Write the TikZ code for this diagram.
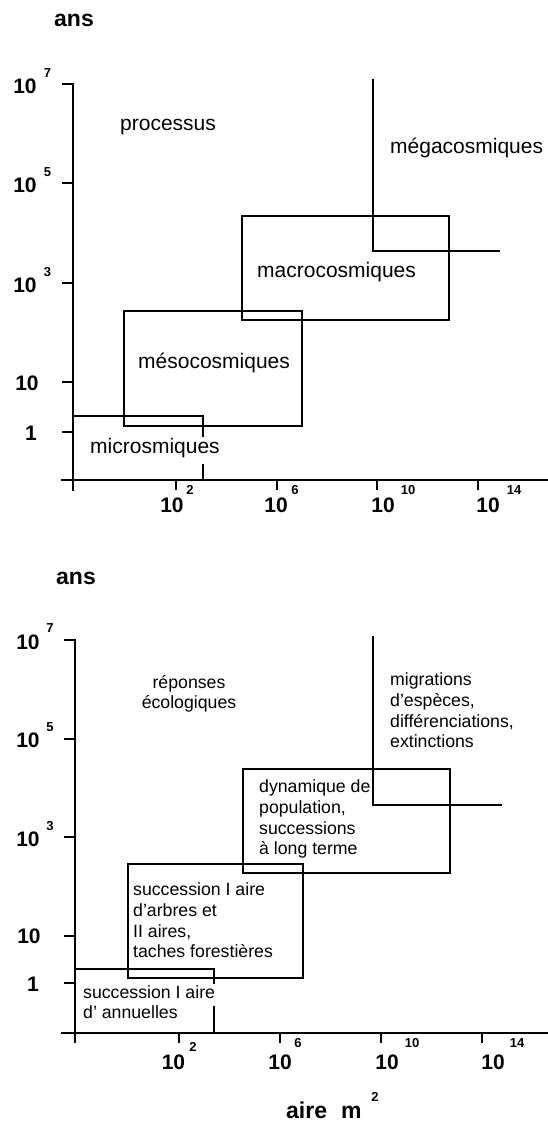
\documentclass[tikz,border=0pt]{standalone}
\usepackage{fontspec}
\setmainfont{Liberation Sans}
\begin{document}
\begin{tikzpicture}[x=1pt,y=-1pt,
  ln/.style={line width=1.5pt, line cap=rect},
  lbl/.style={font=\fontsize{21}{25}\selectfont, inner sep=0pt, anchor=base west},
  sm/.style={font=\fontsize{17.7}{20.6}\selectfont, inner sep=0pt, align=left, anchor=base west},
  num/.style={font=\bfseries\fontsize{21}{25}\selectfont, inner sep=0pt},
  supn/.style={font=\bfseries\fontsize{13}{15}\selectfont, inner sep=0pt},
  ttl/.style={font=\bfseries\fontsize{23}{27}\selectfont, inner sep=0pt, anchor=base west}]
\useasboundingbox (0,0) rectangle (547,1124);

% ================= TOP CHART =================
\node[ttl] (ans1) at (54,27) {ans};
% axes
\draw[ln] (73,84) -- (73,490);
\draw[ln] (62,480) -- (547,480);
\foreach \yy in {84,183,283,382,432} \draw[ln] (63,\yy) -- (73,\yy);
\foreach \xx in {176,277,377,478} \draw[ln] (\xx,480) -- (\xx,489);
% y labels
\node[num] (ty7) at (25,86) {10};  \node[supn] (ty7s) at (47.5,73) {7};
\node[num] (ty5) at (25,185) {10}; \node[supn] (ty5s) at (47.5,172) {5};
\node[num] (ty3) at (25,285) {10}; \node[supn] (ty3s) at (47.5,272) {3};
\node[num] (ty1) at (27,383) {10};
\node[num] (ty0) at (31,433) {1};
% x labels
\node[num] (tx2) at (172,505) {10};  \node[supn] (tx2s) at (190,490) {2};
\node[num] (tx6) at (276,505) {10};  \node[supn] (tx6s) at (295,490) {6};
\node[num] (tx10) at (383,505) {10}; \node[supn] (tx10s) at (408,490) {10};
\node[num] (tx14) at (488,505) {10}; \node[supn] (tx14s) at (514,490) {14};
% boxes
\draw[ln] (73,416) -- (203,416) -- (203,436);
\draw[ln] (203,465) -- (203,480);
\draw[ln] (124,311) rectangle (302,426);
\draw[ln] (242,216) rectangle (449,320);
\draw[ln] (373,80) -- (373,251) -- (499,251);
% labels
\node[lbl] (proc) at (120,130.5) {processus};
\node[lbl] (mega1) at (390,153.5) {mégacosmiques};
\node[lbl] (macro1) at (257,277.5) {macrocosmiques};
\node[lbl] (meso1) at (138,368.5) {mésocosmiques};
\node[lbl] (micro1) at (90,453.5) {microsmiques};

% ================= BOTTOM CHART =================
\node[ttl] (ans2) at (56,584) {ans};
\draw[ln] (75,640) -- (75,1042);
\draw[ln] (62,1033) -- (547,1033);
\foreach \yy in {640,739,837,936,983} \draw[ln] (65,\yy) -- (75,\yy);
\foreach \xx in {179,280,381,482} \draw[ln] (\xx,1033) -- (\xx,1042);
% y labels
\node[num] (by7) at (28,642) {10};  \node[supn] (by7s) at (50,628) {7};
\node[num] (by5) at (28,740) {10};  \node[supn] (by5s) at (50,727) {5};
\node[num] (by3) at (28,839) {10};  \node[supn] (by3s) at (50,826) {3};
\node[num] (by1) at (29,936) {10};
\node[num] (by0) at (33,984) {1};
% x labels
\node[num] (bx2) at (173.5,1062) {10};  \node[supn] (bx2s) at (193,1047) {2};
\node[num] (bx6) at (280,1062) {10};    \node[supn] (bx6s) at (298,1043) {6};
\node[num] (bx10) at (387,1062) {10};   \node[supn] (bx10s) at (412,1043) {10};
\node[num] (bx14) at (493,1062) {10};   \node[supn] (bx14s) at (517,1043) {14};
\node[ttl] (aire) at (286,1118) {aire\hspace{14pt}m};
\node[supn] (aires) at (375,1097) {2};
% boxes
\draw[ln] (75,969) -- (214,969) -- (214,983);
\draw[ln] (214,1007) -- (214,1033);
\draw[ln] (128,864) rectangle (303,978);
\draw[ln] (243,769) rectangle (450,873);
\draw[ln] (373,637) -- (373,805) -- (501,805);
% labels (anchor at baseline of last line)
\node[sm, align=center, anchor=base] (rep) at (189,708.6) {réponses\\écologiques};
\node[sm] (migr) at (390,747.6) {migrations\\d’espèces,\\différenciations,\\extinctions};
\node[sm] (dyn) at (259,854.6) {dynamique de\\population,\\successions\\à long terme};
\node[sm] (succ2) at (133,957.6) {succession I aire\\d’arbres et\\II aires,\\taches forestières};
\node[sm] (succ1) at (83,1018.6) {succession I aire\\d’ annuelles};
\end{tikzpicture}
\end{document}
